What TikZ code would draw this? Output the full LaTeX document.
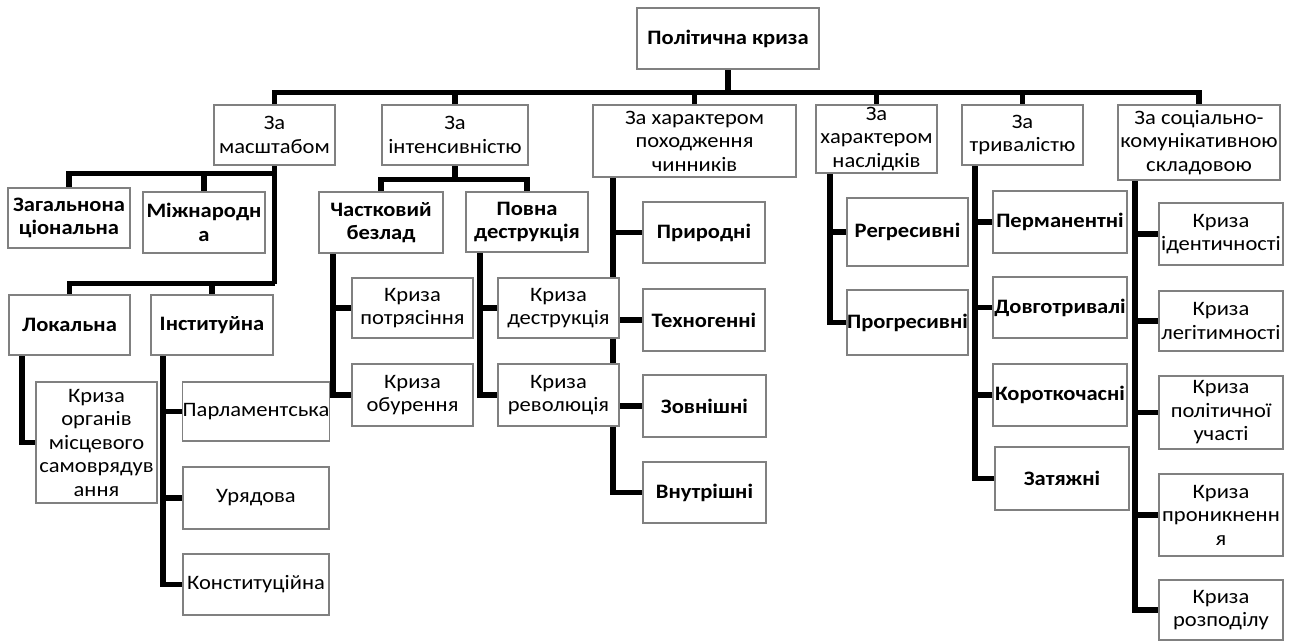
\documentclass[tikz,border=0pt]{standalone}
\usepackage{fontspec}
\setmainfont{Carlito}[FakeStretch=1.1]
\usetikzlibrary{calc}
\pgfdeclarelayer{bg}
\pgfsetlayers{bg,main}
\begin{document}
\begin{tikzpicture}[x=1pt,y=-1pt,
  box/.style={draw=black!50, line width=1.3pt, fill=white, align=center, inner sep=0pt, text=black, font=\fontsize{20.5}{23.5}\selectfont},
  bbox/.style={box, font=\fontsize{20.5}{23.5}\selectfont\bfseries},
  conn/.style={line width=5.5pt, draw=black},
  wh/.style 2 args={minimum width=#1pt, minimum height=#2pt}
]
\useasboundingbox (0,0) rectangle (1291,641);
% level 0
\node[bbox, wh={182}{61}] (top) at (728,38.5) {Політична криза};
% level 1
\node[box, wh={121}{60}] (m) at (274.5,135) {За\\масштабом};
\node[box, wh={146}{60}] (i) at (455,135) {За\\інтенсивністю};
\node[box, wh={203}{72}] (p) at (694.5,141) {За характером\\походження\\чинників};
\node[box, wh={121}{68}] (n) at (876.5,139) {За\\характером\\наслідків};
\node[box, wh={121}{60}] (t) at (1022.5,135) {За\\тривалістю};
\node[box, wh={162}{75}] (s) at (1199,142.5) {За соціально-\\комунікативною\\складовою};
% scale
\node[bbox, wh={122}{60}] (zn) at (69,218) {Загальнона\\ціональна};
\node[bbox, wh={122}{61}] (mn) at (204,222.5) {Міжнародн\\а};
\node[bbox, wh={121}{60}] (lo) at (69.5,325) {Локальна};
\node[bbox, wh={122}{60}] (in) at (212,325) {Інституйна};
\node[box, wh={121}{121}] (ks) at (96.5,442.5) {Криза\\органів\\місцевого\\самоврядув\\ання};
\node[box, wh={146}{59}] (parl) at (256,411.5) {Парламентська};
\node[box, wh={146}{62}] (ur) at (256,498) {Урядова};
\node[box, wh={146}{61}] (kon) at (256,584.5) {Конституційна};
% intensity
\node[bbox, wh={124}{61}] (ch) at (381,222.5) {Частковий\\безлад};
\node[bbox, wh={122}{60}] (pd) at (527,222) {Повна\\деструкція};
\node[box, wh={121}{60}] (kp) at (412.5,308) {Криза\\потрясіння};
\node[box, wh={121}{62}] (ko) at (412.5,395) {Криза\\обурення};
\node[box, wh={121}{60}] (kd) at (558.5,308) {Криза\\деструкція};
\node[box, wh={121}{62}] (kr) at (558.5,395) {Криза\\революція};
% origin
\node[bbox, wh={122}{61}] (pr) at (704,232.5) {Природні};
\node[bbox, wh={122}{62}] (te) at (704,320) {Техногенні};
\node[bbox, wh={123}{62}] (zo) at (704.5,406) {Зовнішні};
\node[bbox, wh={123}{61}] (vn) at (704.5,492.5) {Внутрішні};
% consequences
\node[bbox, wh={121}{68}] (rg) at (907.5,232) {Регресивні};
\node[bbox, wh={121}{65}] (pg) at (907.5,322.5) {Прогресивні};
% duration
\node[bbox, wh={134}{62}] (pe) at (1060,222) {Перманентні};
\node[bbox, wh={134}{61}] (do) at (1060,307.5) {Довготривалі};
\node[bbox, wh={134}{62}] (kc) at (1060,395) {Короткочасні};
\node[bbox, wh={134}{63}] (za) at (1062,478.5) {Затяжні};
% social
\node[box, wh={124}{62}] (ki) at (1221,234) {Криза\\ідентичності};
\node[box, wh={124}{60}] (kl) at (1221,321) {Криза\\легітимності};
\node[box, wh={124}{73}] (kpu) at (1221,412.5) {Криза\\політичної\\участі};
\node[box, wh={124}{82}] (kpr) at (1221,515) {Криза\\проникненн\\я};
\node[box, wh={124}{60}] (krz) at (1221,610) {Криза\\розподілу};
% connectors
\begin{pgfonlayer}{bg}
\draw[conn] (top.south) -- ++(0,23) coordinate (bus);
\foreach \c in {m,i,p,n,t,s} \draw[conn] (bus) -| (\c.north);
\draw[conn] (m.south) -- ++(0,8) coordinate (m1);
\draw[conn] (m1) -| (zn.north);
\draw[conn] (m1) -| (mn.north);
\draw[conn] (m.south) -- ++(0,118) coordinate (m2);
\draw[conn] (m2) -| (lo.north);
\draw[conn] (m2) -| (in.north);
\draw[conn] ([xshift=-47.5pt]lo.south) |- (ks.west);
\foreach \c in {parl,ur,kon} \draw[conn] ([xshift=-49pt]in.south) |- (\c.west);
\draw[conn] (i.south) -- ++(0,14) coordinate (i1);
\draw[conn] (i1) -| (ch.north);
\draw[conn] (i1) -| (pd.north);
\foreach \c in {kp,ko} \draw[conn] ([xshift=-48pt]ch.south) |- (\c.west);
\foreach \c in {kd,kr} \draw[conn] ([xshift=-47pt]pd.south) |- (\c.west);
\foreach \c in {pr,te,zo,vn} \draw[conn] ([xshift=-81.5pt]p.south) |- (\c.west);
\foreach \c in {rg,pg} \draw[conn] ([xshift=-46.5pt]n.south) |- (\c.west);
\foreach \c in {pe,do,kc,za} \draw[conn] ([xshift=-47.5pt]t.south) |- (\c.west);
\foreach \c in {ki,kl,kpu,kpr,krz} \draw[conn] ([xshift=-64pt]s.south) |- (\c.west);
\end{pgfonlayer}
\end{tikzpicture}
\end{document}
